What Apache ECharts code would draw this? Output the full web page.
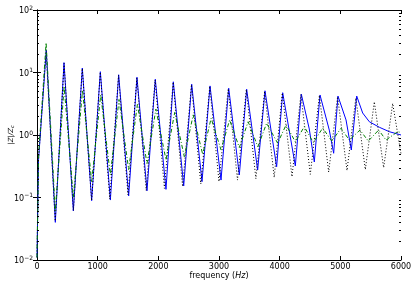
<!DOCTYPE html>
<html><head><meta charset="utf-8">
<script src="https://cdn.jsdelivr.net/npm/echarts@6/dist/echarts.min.js"></script>
<style>html,body{margin:0;padding:0;background:#fff}#c{width:415px;height:285px}</style>
</head><body><div id="c"></div>
<script>
// frequency (Hz), |Z|/Zc
var blueData = [[0,0.011],[25,0.40],[153,23],[302,0.040],[445,14.4],[599,0.061],[747,11.8],[901,0.089],[1044,10.3],[1209,0.091],[1346,9.2],[1511,0.106],[1648,8.4],[1813,0.128],[1950,7.8],[2126,0.135],[2247,7.1],[2418,0.153],[2550,6.5],[2720,0.179],[2852,6.1],[3033,0.19],[3160,5.6],[3335,0.23],[3456,5.4],[3637,0.275],[3758,5.1],[3950,0.31],[4050,4.75],[4258,0.32],[4357,4.5],[4488,1.25],[4571,0.37],[4665,4.37],[4818,1.2],[4890,0.51],[4961,4.2],[5094,1.74],[5181,0.575],[5270,4.2],[5368,2.25],[5478,1.63],[5643,1.33],[5807,1.13],[6000,1.0]];
var dottedData = [[0,0.011],[25,0.40],[150,22],[300,0.042],[447,14],[600,0.062],[746,11.6],[900,0.09],[1043,10.1],[1200,0.095],[1344,9.0],[1500,0.11],[1646,8.2],[1800,0.13],[1947,7.6],[2100,0.14],[2244,7.0],[2400,0.15],[2546,6.4],[2700,0.165],[2848,6.0],[3000,0.18],[3152,5.5],[3305,0.19],[3450,5.3],[3608,0.2],[3752,5.0],[3910,0.21],[4043,4.7],[4203,0.215],[4350,4.45],[4505,0.235],[4655,4.3],[4808,0.255],[4955,4.1],[5110,0.27],[5255,3.9],[5412,0.28],[5560,3.4],[5714,0.3],[5863,3.2],[6000,0.5]];
var greenData = [[0,0.011],[25,0.45],[150,30],[302,0.06],[447,6.0],[599,0.1],[750,5.2],[901,0.18],[1050,4.4],[1209,0.23],[1352,3.7],[1511,0.28],[1655,3.1],[1813,0.35],[1960,2.6],[2126,0.40],[2270,2.3],[2428,0.45],[2575,2.1],[2731,0.49],[2870,1.85],[3033,0.58],[3175,1.74],[3335,0.63],[3480,1.63],[3640,0.65],[3785,1.54],[3967,0.74],[4105,1.45],[4258,0.78],[4406,1.36],[4555,0.76],[4709,1.29],[4860,0.8],[5011,1.28],[5148,0.83],[5324,1.2],[5461,0.8],[5632,1.2],[5753,0.83],[5945,1.13],[6000,1.1]];
var xTicks = [0,1000,2000,3000,4000,5000,6000];
var yMinorTicks = [];
[0.01,0.1,1,10].forEach(function(d){for(var m=2;m<=9;m++){yMinorTicks.push(+(d*m).toPrecision(3));}});

var FONT = 'DejaVu Sans';
var chart = echarts.init(document.getElementById('c'), null, {renderer:'canvas'});
function supFmt(v){
  var e = Math.round(Math.log10(v));
  return '{b|10}{s|' + (e<0 ? '\u2212' + (-e) : e) + '}';
}
var supRich = {
  b:{fontFamily:FONT,fontSize:8,color:'#000',lineHeight:10,verticalAlign:'bottom'},
  s:{fontFamily:FONT,fontSize:6,color:'#000',lineHeight:6,verticalAlign:'top'}
};
var axisLine = {show:true,lineStyle:{color:'#000',width:1}};
chart.setOption({
  animation:false,
  grid:{left:37,right:14,top:10,bottom:25,containLabel:false,outerBoundsMode:'none'},
  xAxis:[{
    type:'value',min:0,max:6000,interval:1000,
    axisLine:axisLine,axisTick:{show:true,inside:true,length:4,lineStyle:{color:'#000'}},
    splitLine:{show:false},
    axisLabel:{fontFamily:FONT,fontSize:8,color:'#000',margin:3,
      formatter:function(v){return xTicks.indexOf(v)>=0?String(v):'';}},
    name:'{n|frequency (}{i|Hz}{n|)}',nameLocation:'middle',nameGap:12,nameMoveOverlap:false,
    nameTextStyle:{rich:{n:{fontFamily:FONT,fontSize:8,color:'#000'},i:{fontFamily:FONT,fontStyle:'italic',fontSize:8,color:'#000'}}}
  },{
    type:'value',min:0,max:6000,interval:1000,position:'top',
    axisLine:axisLine,axisTick:{show:true,inside:true,length:4,lineStyle:{color:'#000'}},
    axisLabel:{show:false},splitLine:{show:false}
  }],
  yAxis:[{
    type:'log',logBase:10,min:0.01,max:100,
    axisLine:axisLine,axisTick:{show:true,inside:true,length:4,lineStyle:{color:'#000'}},
    splitLine:{show:false},minorTick:{show:false},
    axisLabel:{formatter:supFmt,rich:supRich,margin:4},
    name:'{i||Z|/Z}{c|c}',nameLocation:'middle',nameGap:22,nameRotate:90,nameMoveOverlap:false,
    nameTextStyle:{rich:{i:{fontFamily:FONT,fontStyle:'italic',fontSize:7,color:'#000',lineHeight:9,verticalAlign:'bottom'},c:{fontFamily:FONT,fontStyle:'italic',fontSize:5,color:'#000',lineHeight:5,verticalAlign:'bottom'}}}
  },{
    type:'log',logBase:10,min:0.01,max:100,position:'right',
    axisLine:axisLine,axisTick:{show:true,inside:true,length:4,lineStyle:{color:'#000'}},
    axisLabel:{show:false},splitLine:{show:false}
  }],
  series:[
    {type:'line',data:blueData,symbol:'none',lineStyle:{color:'#0000ff',width:1},z:2},
    {type:'line',data:dottedData,symbol:'none',lineStyle:{color:'#000',width:1,type:[1,2]},z:3},
    {type:'line',data:greenData,symbol:'none',lineStyle:{color:'#008000',width:1,type:[4,2,1,2]},z:4},
    {type:'custom',silent:true,clip:false,z:5,data:yMinorTicks.map(function(v){return [0,v];}),
      renderItem:function(params,api){
        var v = api.value(1);
        var L = api.coord([0,v]), R = api.coord([6000,v]);
        var st = {stroke:'#000',lineWidth:1};
        return {type:'group',children:[
          {type:'line',shape:{x1:L[0],y1:Math.round(L[1])+0.5,x2:L[0]+2,y2:Math.round(L[1])+0.5},style:st},
          {type:'line',shape:{x1:R[0]-2,y1:Math.round(R[1])+0.5,x2:R[0],y2:Math.round(R[1])+0.5},style:st}
        ]};
      }}
  ]
});
</script></body></html>
